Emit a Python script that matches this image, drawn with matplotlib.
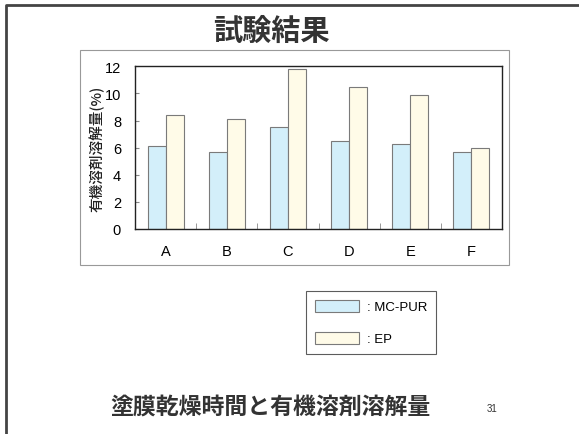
import matplotlib
matplotlib.use("Agg")
import matplotlib.pyplot as plt
import numpy as np
from matplotlib.patches import Rectangle
from matplotlib.lines import Line2D

plt.rcParams['font.family'] = ['Noto Sans CJK JP', 'DejaVu Sans']
LATIN = ['Liberation Sans', 'Noto Sans CJK JP']

categories = ["A", "B", "C", "D", "E", "F"]
mc_pur = [6.1, 5.7, 7.5, 6.5, 6.3, 5.7]
ep = [8.4, 8.1, 11.8, 10.5, 9.9, 6.0]
series_labels = [": MC-PUR", ": EP"]
yticks = [0, 2, 4, 6, 8, 10, 12]
title = "試験結果"
ylabel = "有機溶剤溶解量(%)"
subtitle = "塗膜乾燥時間と有機溶剤溶解量"
page_no = "31"

W, H = 579, 435
fig = plt.figure(figsize=(W / 100, H / 100), dpi=100)
fig.patch.set_facecolor("white")

def fx(x):
    return x / W

def fy(y):
    return 1 - y / H

# slide frame (left and top)
fig.add_artist(Line2D([fx(6), fx(6), fx(579)], [fy(435), fy(6), fy(6)],
                      transform=fig.transFigure, color="#444444", lw=2))

# chart outer box
fig.add_artist(Rectangle((fx(80), fy(266)), fx(509) - fx(80), fy(51) - fy(266),
                         transform=fig.transFigure, fill=False,
                         edgecolor="#999999", lw=0.8))

ax = fig.add_axes([fx(135), fy(230), fx(502) - fx(135), fy(67.3) - fy(230)])
x = np.arange(len(categories))
bw = 0.295
b1 = ax.bar(x - bw / 2, mc_pur, bw, color="#d3effa", edgecolor="#7a7a7a",
            linewidth=0.8, label=series_labels[0])
b2 = ax.bar(x + bw / 2, ep, bw, color="#fffbe8", edgecolor="#7a7a7a",
            linewidth=0.8, label=series_labels[1])
ax.set_xlim(-0.5, len(categories) - 0.5)
ax.set_ylim(0, 12)
ax.set_yticks(yticks)
ax.set_xticks(x)
ax.set_xticklabels(categories)
ax.tick_params(axis="x", length=0, pad=11, labelsize=10.5)
ax.set_xticks(np.arange(0.5, len(categories) - 0.5, 1), minor=True)
ax.tick_params(axis="x", which="minor", direction="in", length=4, color="#888888")
ax.tick_params(axis="y", direction="in", length=3, color="#888888", pad=10, labelsize=10.5)
for lab in ax.get_xticklabels() + ax.get_yticklabels():
    lab.set_family(LATIN)
for s in ax.spines.values():
    s.set_color("#222222")
    s.set_linewidth(1.0)

fig.text(fx(97), fy(149), ylabel, rotation=90, ha="center", va="center",
         fontsize=10.5, fontweight="medium", color="#222222")

fig.text(fx(271), fy(31), title, ha="center", va="center", fontsize=21,
         fontweight="bold", color="#333333")
fig.text(fx(270), fy(407), subtitle, ha="center", va="center", fontsize=16.5,
         fontweight="bold", color="#333333")
fig.text(fx(492), fy(409), page_no, ha="center", va="center", fontsize=7,
         color="#333333", family=LATIN)

leg = fig.legend(handles=[b1, b2], labels=series_labels, loc="upper left",
                 bbox_to_anchor=(fx(306), fy(292)), frameon=True, fancybox=False,
                 edgecolor="#333333", prop={'family': LATIN, 'size': 9.5},
                 handlelength=3.4, handleheight=1.06,
                 labelspacing=1.4, borderpad=0.65, handletextpad=0.6,
                 borderaxespad=0)
leg.get_frame().set_linewidth(0.8)

fig.savefig("out.png", dpi=100, facecolor="white")
